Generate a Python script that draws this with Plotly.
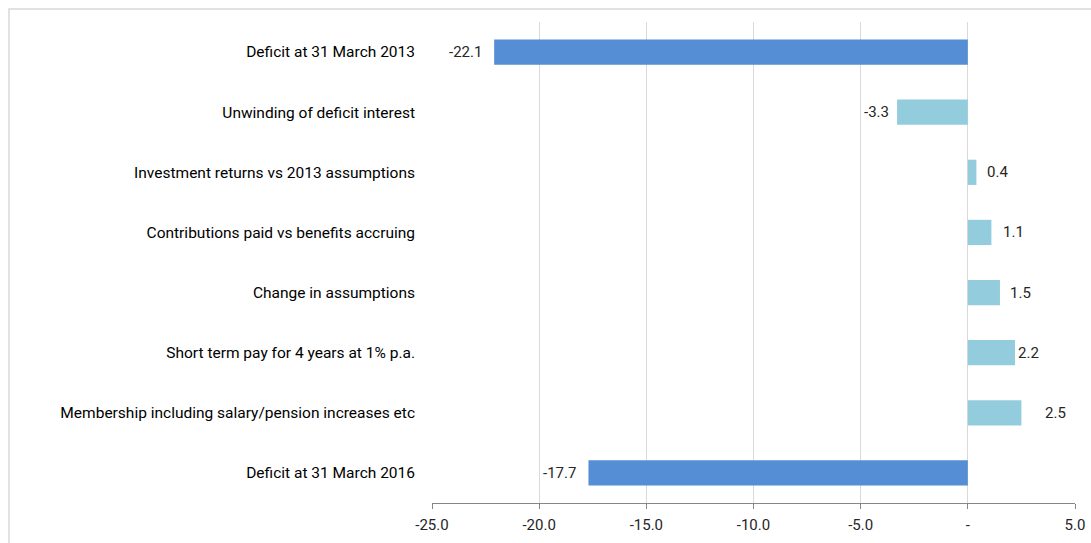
import plotly.graph_objects as go

categories = [
    "Deficit at 31 March 2013",
    "Unwinding of deficit interest",
    "Investment returns vs 2013 assumptions",
    "Contributions paid vs benefits accruing",
    "Change in assumptions",
    "Short term pay for 4 years at 1% p.a.",
    "Membership including salary/pension increases etc",
    "Deficit at 31 March 2016",
]
values = [-22.1, -3.3, 0.4, 1.1, 1.5, 2.2, 2.5, -17.7]
bar_colors = ["#558ED5", "#93CDDD", "#93CDDD", "#93CDDD", "#93CDDD", "#93CDDD", "#93CDDD", "#558ED5"]
x_tickvals = [-25, -20, -15, -10, -5, 0, 5]
x_ticktext = ["-25.0", "-20.0", "-15.0", "-10.0", "-5.0", "-", "5.0"]
# horizontal pixel offsets of the data labels from the bar ends (styling)
label_shift = [-10, -6, 9, 10, 8, 1, 22, -10]

W, H = 1091, 543
L, R, T, B = 432, 16, 22, 40
pw = W - L - R
ph = H - T - B

fig = go.Figure()
fig.add_trace(go.Bar(
    y=categories, x=values, orientation="h",
    marker=dict(color=bar_colors, line=dict(width=0)),
    width=0.42,
    hoverinfo="x+y",
))

label_font = dict(family="Roboto, Arial", size=15, color="#262626")
for cat, v, s in zip(categories, values, label_shift):
    fig.add_annotation(
        x=v, y=cat, xref="x", yref="y",
        text=f"{v:.1f}", showarrow=False,
        xanchor="right" if v < 0 else "left",
        xshift=s, font=label_font,
    )

xmin, xmax = -25, 5
fig.update_layout(
    width=W, height=H,
    margin=dict(l=L, r=R, t=T, b=B, autoexpand=False),
    paper_bgcolor="white", plot_bgcolor="white",
    showlegend=False,
    xaxis=dict(
        range=[xmin, xmax], tickvals=x_tickvals, ticktext=x_ticktext,
        automargin=False,
        showgrid=True, gridcolor="#D9D9D9", gridwidth=1,
        zeroline=False,
        showline=True, linecolor="#868686", linewidth=1,
        ticks="outside", ticklen=5, tickcolor="#868686",
        ticklabelstandoff=3,
        tickfont=dict(family="Roboto, Arial", size=15, color="#262626"),
    ),
    yaxis=dict(
        categoryorder="array", categoryarray=categories,
        range=[7.5, -0.5], automargin=False,
        showgrid=False, zeroline=False, showline=False,
        ticks="", ticklabelstandoff=16,
        tickfont=dict(family="Roboto, Arial", size=15.5, color="#000000"),
    ),
    yaxis2=dict(
        overlaying="y", anchor="free",
        position=(0 - xmin) / (xmax - xmin),
        range=[7.5, -0.5], automargin=False,
        tickvals=[-0.5 + i for i in range(9)],
        showticklabels=False, ticks="outside", ticklen=5, tickcolor="#868686",
        showline=True, linecolor="#868686", linewidth=1,
        showgrid=False, zeroline=False,
    ),
)

# chart border
fig.add_shape(
    type="rect", xref="paper", yref="paper",
    x0=(9 - L) / pw, x1=(W + 20 - L) / pw,
    y0=(T + ph - (H + 20)) / ph, y1=(T + ph - 9) / ph,
    line=dict(color="#D9D9D9", width=1.5), fillcolor="rgba(0,0,0,0)",
    layer="below",
)

fig.write_html(
    "out.html",
    config={"displayModeBar": False},
    post_script="document.body.style.margin='0';",
)
